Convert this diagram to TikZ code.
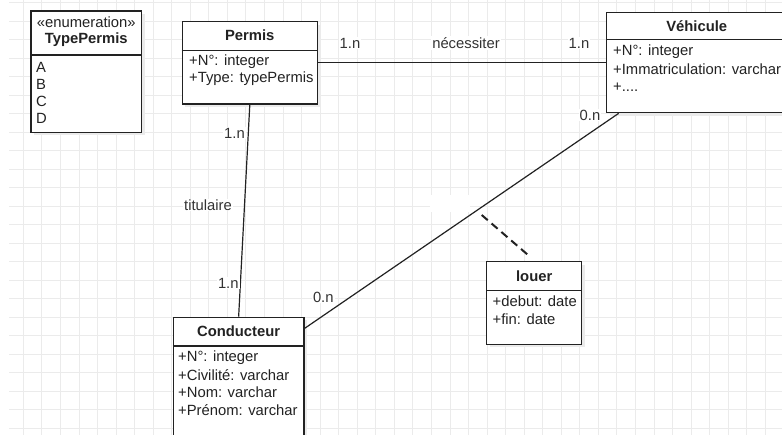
\documentclass[tikz,border=0pt]{standalone}
\usepackage{fontspec}
\setmainfont{Liberation Sans}
\usetikzlibrary{calc,shadows}
\definecolor{gridc}{HTML}{EBEBEB}
\definecolor{ink}{HTML}{222222}
\definecolor{labc}{HTML}{333333}
\tikzset{
  classbox/.style={draw=ink, line width=1.3pt, fill=white, rectangle, inner sep=0pt,
    drop shadow={shadow xshift=3pt, shadow yshift=-3pt, fill=black!8, opacity=1}},
  divider/.style={draw=ink, line width=1.3pt},
  ctitle/.style={font=\fontsize{14.8}{17}\selectfont\bfseries, text=ink, inner sep=0pt, anchor=center},
  cstereo/.style={font=\fontsize{14.8}{17}\selectfont, text=ink, inner sep=0pt, anchor=center},
  attr/.style={font=\fontsize{14.8}{17.5}\selectfont, text=ink, inner sep=0pt, anchor=west},
  role/.style={font=\fontsize{14.8}{17}\selectfont, text=labc, fill=white, inner sep=1pt},
  assoc/.style={draw=ink, line width=1.2pt},
  linkdash/.style={draw=ink, line width=2pt, dash pattern=on 8pt off 5pt},
  gridline/.style={draw=gridc, line width=0.9pt},
}
\begin{document}
\begin{tikzpicture}[x=1pt, y=-1pt]
\useasboundingbox (0,0) rectangle (782,435);
\clip (0,0) rectangle (782,435);
\fill[white] (0,0) rectangle (782,435);
% grid
\foreach \i in {0,...,40} \draw[gridline] ({23.3+18.55*\i},0) -- ++(0,435);
\foreach \j in {0,...,23} \draw[gridline] (9,{2.5+18.5*\j}) -- (782,{2.5+18.5*\j});
% empty label patch
\fill[white] (430,195) rectangle (470,211.7);

% TypePermis
\node[classbox, minimum width=110.5pt, minimum height=121.3pt] (typep) at (86.25,71.65) {};
\draw[divider] (typep.west |- 0,55) -- (typep.east |- 0,55);
\node[cstereo] (typepst) at (86.25,22.7) {«enumeration»};
\node[ctitle] (typept) at (86.25,40) {TypePermis};
\node[attr] (tpa) at (36,67.7) {A};
\node[attr] (tpb) at (36,84.7) {B};
\node[attr] (tpc) at (36,101.7) {C};
\node[attr] (tpd) at (36,118.7) {D};

% Permis
\node[classbox, minimum width=135pt, minimum height=82.3pt] (permis) at (249.8,62.85) {};
\draw[divider] (permis.west |- 0,50.7) -- (permis.east |- 0,50.7);
\node[ctitle] (permist) at (249.8,35.5) {Permis};
\node[attr] (pa1) at (189,61.7) {+N°: integer};
\node[attr] (pa2) at (189,79) {+Type: typePermis};

% Vehicule
\node[classbox, minimum width=180pt, minimum height=100.4pt] (vehicule) at (696.7,62.5) {};
\draw[divider] (vehicule.west |- 0,39.3) -- (vehicule.east |- 0,39.3);
\node[ctitle] (vehiculet) at (696.7,26) {Véhicule};
\node[attr] (va1) at (613,51.7) {+N°: integer};
\node[attr] (va2) at (613,69.3) {+Immatriculation: varchar};
\node[attr] (va3) at (613,87) {+....};

% Conducteur
\node[classbox, minimum width=130.7pt, minimum height=127.7pt] (conducteur) at (238.65,381.15) {};
\draw[divider] (conducteur.west |- 0,346) -- (conducteur.east |- 0,346);
\node[ctitle] (conducteurt) at (238.65,331.7) {Conducteur};
\node[attr] (ca1) at (178,357.3) {+N°: integer};
\node[attr] (ca2) at (178,375) {+Civilité: varchar};
\node[attr] (ca3) at (178,392.3) {+Nom: varchar};
\node[attr] (ca4) at (178,410) {+Prénom: varchar};

% louer
\node[classbox, minimum width=95pt, minimum height=82.6pt] (louer) at (534.2,303) {};
\draw[divider] (louer.west |- 0,290.7) -- (louer.east |- 0,290.7);
\node[ctitle] (louert) at (534.2,276) {louer};
\node[attr] (la1) at (492.5,301.7) {+debut: date};
\node[attr] (la2) at (492.5,319.3) {+fin: date};

% connectors
\draw[assoc] (permis.east) -- (permis.east -| vehicule.west);
\draw[assoc] (permis.south) -- (conducteur.north);
\coordinate (cv) at ($(conducteur.north east)+(0,11.7)$);
\coordinate (vc) at ($(vehicule.south west)+(12.6,0)$);
\draw[assoc] (cv) -- (vc);
\coordinate (lm) at (481.7,215);
\coordinate (lt) at (530,256.7);
\draw[linkdash] (lm) -- (lt);

% labels
\node[role] (m1) at (350,43) {1.n};
\node[role] (nec) at (466,43) {nécessiter};
\node[role] (m2) at (579,43) {1.n};
\node[role] (m3) at (590,115) {0.n};
\node[role] (m4) at (323.3,297) {0.n};
\node[role] (m5) at (234.5,133) {1.n};
\node[role] (tit) at (208,205) {titulaire};
\node[role] (m6) at (228.3,283.3) {1.n};
\end{tikzpicture}
\end{document}
